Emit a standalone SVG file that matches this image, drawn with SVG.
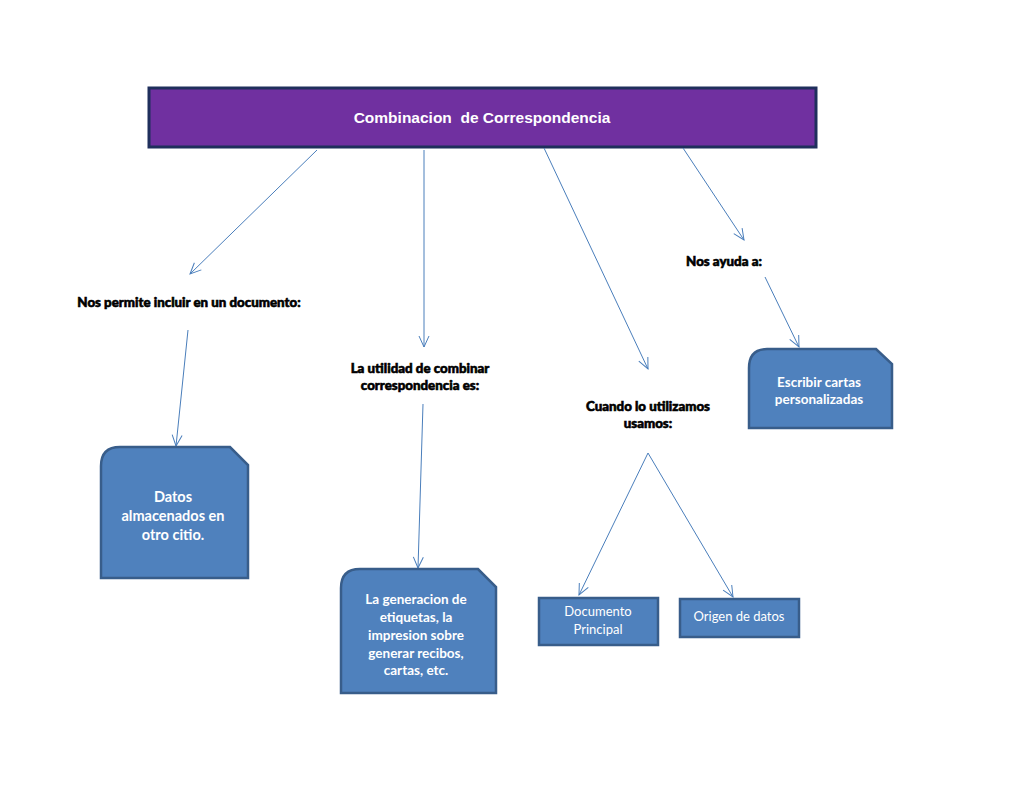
<svg xmlns="http://www.w3.org/2000/svg" width="1024" height="791" viewBox="0 0 1024 791">
<style>
.box{fill:#4F81BD;stroke:#385D8A;stroke-width:2.5}
.conn{stroke:#4A7EBB;stroke-width:1;fill:none;marker-end:url(#arr)}
.lbl{font-family:Lato,"Liberation Sans",sans-serif;font-weight:900;font-size:13.3px;fill:#000;stroke:#000;stroke-width:0.6;text-anchor:middle}
.bt{font-family:Lato,"Liberation Sans",sans-serif;font-weight:700;font-size:13.5px;fill:#fff;text-anchor:middle}
.bt2{font-family:Lato,"Liberation Sans",sans-serif;font-weight:700;font-size:14.5px;fill:#fff;text-anchor:middle}
.nt{font-family:Lato,"Liberation Sans",sans-serif;font-weight:400;font-size:13px;fill:#fff;text-anchor:middle}
</style>
<defs>
<marker id="arr" markerWidth="14" markerHeight="14" refX="12" refY="6" orient="auto" markerUnits="userSpaceOnUse">
<path d="M1,1 L12,6 L1,11" fill="none" stroke="#4A7EBB" stroke-width="1"/>
</marker>
</defs>
<rect width="1024" height="791" fill="#fff"/>
<g id="header">
<rect x="149" y="88" width="667" height="59" fill="#7030A0" stroke="#1F2F5C" stroke-width="3"/>
<text x="482" y="123" font-family="'Liberation Sans',Arial,sans-serif" font-weight="700" font-size="15.5" fill="#fff" text-anchor="middle" xml:space="preserve">Combinacion  de Correspondencia</text>
</g>
<g id="connectors">
<line class="conn" x1="317" y1="150" x2="190" y2="274"/>
<line class="conn" x1="424" y1="150" x2="424" y2="347"/>
<line class="conn" x1="544" y1="148" x2="648" y2="369"/>
<line class="conn" x1="683" y1="148" x2="744" y2="240"/>
<line class="conn" x1="765" y1="277" x2="799" y2="347"/>
<line class="conn" x1="188" y1="330" x2="176" y2="446"/>
<line class="conn" x1="423" y1="404" x2="418" y2="568"/>
<line class="conn" x1="648" y1="453" x2="579" y2="595"/>
<line class="conn" x1="648" y1="453" x2="733" y2="597"/>
</g>
<g id="label-permite"><text class="lbl" x="189" y="307">Nos permite incluir en un documento:</text></g>
<g id="label-ayuda"><text class="lbl" x="724" y="266">Nos ayuda a:</text></g>
<g id="label-utilidad"><text class="lbl" x="420" y="373">La utilidad de combinar</text><text class="lbl" x="420" y="390">correspondencia es:</text></g>
<g id="label-cuando"><text class="lbl" x="648" y="411">Cuando lo utilizamos</text><text class="lbl" x="648" y="428">usamos:</text></g>
<g id="node-datos">
<path class="box" d="M120,447 L230,447 L248,465 L248,578 L101,578 L101,466 Q101,447 120,447 Z"/>
<text class="bt2" x="173" y="502">Datos</text><text class="bt2" x="173" y="521">almacenados en</text><text class="bt2" x="173" y="540">otro citio.</text>
</g>
<g id="node-generacion">
<path class="box" d="M360,569 L478,569 L496,587 L496,693 L341,693 L341,588 Q341,569 360,569 Z"/>
<text class="bt" x="416" y="604">La generacion de</text><text class="bt" x="416" y="622">etiquetas, la</text><text class="bt" x="416" y="640">impresion sobre</text><text class="bt" x="416" y="658">generar recibos,</text><text class="bt" x="416" y="675">cartas, etc.</text>
</g>
<g id="node-escribir">
<path class="box" d="M767,349 L876,349 L892,364 L892,428 L749,428 L749,368 Q749,349 767,349 Z"/>
<text class="bt" x="819" y="387">Escribir cartas</text><text class="bt" x="819" y="404">personalizadas</text>
</g>
<g id="node-documento">
<rect class="box" x="539" y="598" width="119" height="47"/>
<text class="nt" x="598" y="616">Documento</text><text class="nt" x="598" y="634">Principal</text>
</g>
<g id="node-origen">
<rect class="box" x="680" y="599" width="119" height="38"/>
<text class="nt" x="739" y="621">Origen de datos</text>
</g>
</svg>
